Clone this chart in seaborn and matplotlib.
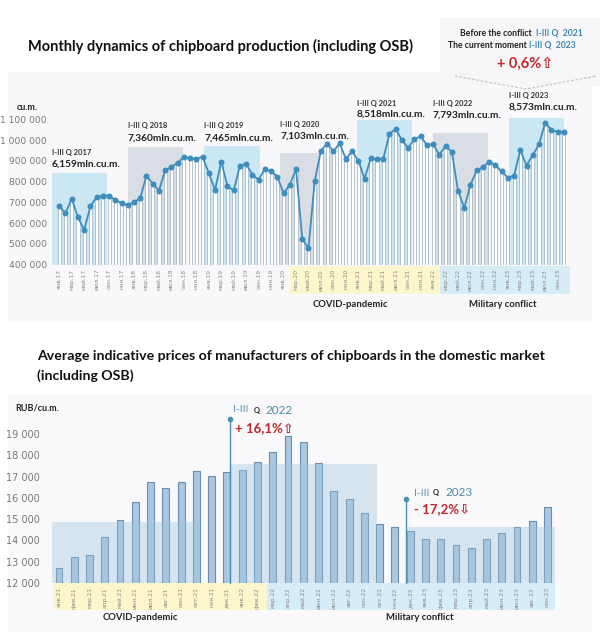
import numpy as np
import pandas as pd
import matplotlib.pyplot as plt
import seaborn as sns
from matplotlib.patches import Rectangle
from matplotlib.lines import Line2D
from matplotlib.transforms import blended_transform_factory

W, H = 600, 642

# monthly chipboard (incl. OSB) production, thousand cu.m., Jan 2017 .. Oct 2023
prod_2017 = [684, 647, 718, 628, 568, 681, 726, 731, 732, 711, 697, 687]
prod_2018 = [700, 721, 829, 790, 756, 854, 870, 891, 918, 912, 909, 920]
prod_2019 = [840, 760, 896, 777, 758, 877, 885, 833, 809, 862, 849, 824]
prod_2020 = [743, 785, 859, 524, 480, 803, 949, 983, 946, 984, 909, 947]
prod_2021 = [901, 814, 912, 907, 909, 1031, 1052, 999, 963, 1004, 1018, 976]
prod_2022 = [979, 930, 971, 943, 756, 674, 785, 854, 869, 896, 880, 849]
prod_2023 = [819, 829, 951, 877, 928, 979, 1084, 1048, 1039, 1039]

period_years = [2017, 2018, 2019, 2020, 2021, 2022, 2023]
period_totals = ["6,159", "7,360", "7,465", "7,103", "8,518", "7,793", "8,573"]
period_level = [843, 965, 973, 936, 1097, 1036, 1108]          # shaded box height
period_colors = ["#cbe7f4", "#d9dee5", "#cbe7f4", "#d9dee5", "#cbe7f4", "#d9dee5", "#cbe7f4"]
label_hi = [938, 1069, 1069, 1077, 1174, 1174, 1212]
label_lo = [885, 1011, 1011, 1020, 1126, 1121, 1159]

# average prices, RUB/cu.m., Jan 2021 .. Sep 2023
prices = [12690, 13240, 13300, 14175, 14960, 15800, 16750, 16470, 16740, 17260, 17040, 17200,
          17300, 17670, 18160, 18890, 18600, 17650, 16320, 15950, 15270, 14770, 14640, 14440,
          14070, 14050, 13800, 13660, 14070, 14350, 14640, 14930, 15550]
price_level = [14850, 17600, 14640]

months_ru = ["янв", "фев", "мар", "апр", "май", "июн", "июл", "авг", "сен", "окт", "ноя", "дек"]

prod = [v * 1000 for v in prod_2017 + prod_2018 + prod_2019 + prod_2020 + prod_2021 + prod_2022 + prod_2023]
prod_labels = [f"{months_ru[i % 12]}.{17 + i // 12}" for i in range(len(prod))]
df_prod = pd.DataFrame({"idx": np.arange(len(prod)), "value": prod, "month": prod_labels})

price_labels = [f"{months_ru[i % 12]}.{21 + i // 12}" for i in range(len(prices))]
df_price = pd.DataFrame({"idx": np.arange(len(prices)), "price": prices, "month": price_labels})

sns.set_theme(style="white")
plt.rcParams["font.family"] = ["Lato", "DejaVu Sans"]
narrow = ["Liberation Sans Narrow", "DejaVu Sans"]

fig = plt.figure(figsize=(6, 6.42), dpi=100)


def fx(x):
    return x / W


def fy(y):
    return 1 - y / H


def ftext(x, y, s, **kw):
    kw.setdefault("va", "center")
    return fig.text(fx(x), fy(y), s, **kw)


def fig_rect(x0, y0, x1, y1, color, z=-5):
    fig.add_artist(Rectangle((fx(x0), fy(y1)), (x1 - x0) / W, (y1 - y0) / H,
                             transform=fig.transFigure, color=color, zorder=z, lw=0))


def space_fmt(v):
    return f"{v:,}".replace(",", " ")


# faint panel backgrounds
fig_rect(8, 72, 592, 322, "#f8f8fa")
fig_rect(440, 18, 600, 86, "#f6f6f8")
fig_rect(8, 395, 592, 632, "#f9f9fb")

# ---------------- top chart ----------------
ftext(28, 46, "Monthly dynamics of chipboard production (including OSB)", fontsize=10.5, weight="bold", color="#111")
ftext(17, 107, "cu.m.", fontsize=6.5, weight="bold", color="#222")

ax1 = fig.add_axes([fx(46.8), fy(264.7), (576.4 - 46.8) / W, (264.7 - 113) / H])
ax1.set_facecolor("none")

for k, year in enumerate(period_years):
    x0 = 12 * k - 1.2 + 0.23 * k
    ax1.add_patch(Rectangle((x0, 400000), 8.9, period_level[k] * 1000 - 400000,
                            color=period_colors[k], lw=0, zorder=0))
    ax1.text(x0, label_hi[k] * 1000, f"I-III Q {year}", fontsize=5.5, weight="bold", color="#333", va="center")
    ax1.text(x0, label_lo[k] * 1000, f"{period_totals[k]}mln.cu.m.", fontsize=7.3, weight="bold", color="#222", va="center")

sns.barplot(data=df_prod, x="idx", y="value", native_scale=True, color="white", saturation=1,
            edgecolor="#a7bac9", linewidth=0.6, width=0.5, errorbar=None, ax=ax1, zorder=1)
sns.lineplot(data=df_prod, x="idx", y="value", ax=ax1, color="#3f8dbd", lw=1.3, marker="o",
             markersize=4.3, markeredgewidth=0, zorder=3)

ax1.set_xlim(-2, 83)
ax1.set_ylim(400000, 1130000)
ticks_y = list(range(400000, 1100001, 100000))
ax1.set_yticks(ticks_y)
ax1.set_yticklabels([space_fmt(v) for v in ticks_y], fontsize=6.6, color="#777", family=narrow)
ax1.set_xticks(df_prod["idx"][::2])
ax1.set_xticklabels(df_prod["month"][::2], rotation=90, fontsize=4.2, color="#8a8a8a", family=narrow)
ax1.tick_params(length=0, axis="y", pad=0)
ax1.tick_params(length=0, axis="x", pad=3)
ax1.set_xlabel("")
ax1.set_ylabel("")
sns.despine(ax=ax1, left=True, bottom=True)

tr1 = blended_transform_factory(ax1.transData, ax1.transAxes)
ax1.add_patch(Rectangle((37.0, -0.195), 24.1, 0.187, transform=tr1, clip_on=False, color="#fbf6cc", lw=0, zorder=-1))
ax1.add_patch(Rectangle((61.1, -0.195), 20.9, 0.187, transform=tr1, clip_on=False, color="#d6ecf6", lw=0, zorder=-1))
ftext(350, 304, "COVID-pandemic", fontsize=6.8, weight="bold", color="#222", ha="center")
ftext(503, 304, "Military conflict", fontsize=6.8, weight="bold", color="#222", ha="center")

# comparison box, top right
blue = "#3c87b0"
ftext(532, 33, "Before the conflict", fontsize=6.2, weight="bold", color="#222", ha="right")
ftext(536, 33, "I-III Q  2021", fontsize=6.2, weight="bold", color=blue, ha="left")
ftext(527, 45, "The current moment", fontsize=6.2, weight="bold", color="#222", ha="right")
ftext(529, 45, "I-III Q  2023", fontsize=6.2, weight="bold", color=blue, ha="left")
ftext(525, 64, "+ 0,6%⇧", fontsize=10.5, weight="bold", color="#c8262e", ha="center",
      family=["Lato", "DejaVu Sans"])
fig.add_artist(Line2D([fx(455), fx(526), fx(597)], [fy(76), fy(89), fy(76)], transform=fig.transFigure,
                      color="#c4c4c8", lw=0.9, ls=(0, (2, 1.5))))

# ---------------- bottom chart ----------------
ftext(37, 356, "Average indicative prices of manufacturers of chipboards in the domestic market",
      fontsize=10.2, weight="bold", color="#111")
ftext(37, 376, "(including OSB)", fontsize=10.2, weight="bold", color="#111")
ftext(15, 408, "RUB/cu.m.", fontsize=6.5, weight="bold", color="#222")

ax2 = fig.add_axes([fx(49.8), fy(583), (570.5 - 49.8) / W, (583 - 416.9) / H])
ax2.set_facecolor("none")

sns.barplot(data=df_price, x="idx", y="price", native_scale=True, color="#a9c7e1", saturation=1,
            edgecolor="#6a8fae", linewidth=0.8, width=0.45, errorbar=None, ax=ax2, zorder=1)

shade_spans = [(-0.45, 9.2), (11.2, 20.85), (22.75, 32.5)]
for (s0, s1), lvl in zip(shade_spans, price_level):
    ax2.add_patch(Rectangle((s0, 12000), s1 - s0, lvl - 12000, color="#9cc3dc", alpha=0.38, lw=0, zorder=3))

line_c = "#4a8db3"
ax2.plot([11.2, 11.2], [12000, 19700], color=line_c, lw=1, clip_on=False, zorder=4)
ax2.plot([11.2], [19700], "o", color=line_c, ms=3, clip_on=False, zorder=4)
ax2.plot([22.75, 22.75], [12000, 15940], color=line_c, lw=1, clip_on=False, zorder=4)
ax2.plot([22.75], [15940], "o", color=line_c, ms=3, clip_on=False, zorder=4)

ax2.set_xlim(-0.6, 33.5)
ax2.set_ylim(12000, 19800)
ticks_p = list(range(12000, 19001, 1000))
ax2.set_yticks(ticks_p)
ax2.set_yticklabels([space_fmt(v) for v in ticks_p], fontsize=7, color="#777", family=narrow)
ax2.set_xticks(df_price["idx"])
ax2.set_xticklabels(df_price["month"], rotation=90, fontsize=4.2, color="#8a8a8a", family=narrow)
ax2.tick_params(length=0, axis="y", pad=7)
ax2.tick_params(length=0, axis="x", pad=3)
ax2.set_xlabel("")
ax2.set_ylabel("")
sns.despine(ax=ax2, left=True, bottom=True)

tr2 = blended_transform_factory(ax2.transData, ax2.transAxes)
ax2.add_patch(Rectangle((-0.39, -0.165), 14.0, 0.165, transform=tr2, clip_on=False, color="#fbf6cc", lw=0, zorder=-1))
ax2.add_patch(Rectangle((13.61, -0.165), 18.9, 0.165, transform=tr2, clip_on=False, color="#d6ecf6", lw=0, zorder=-1))
ftext(140, 618, "COVID-pandemic", fontsize=6.8, weight="bold", color="#222", ha="center")
ftext(420, 618, "Military conflict", fontsize=6.8, weight="bold", color="#222", ha="center")

# change annotations
ftext(233, 410, "I-III", fontsize=7.5, color="#5a90ab")
ftext(254, 410, "Q", fontsize=5.5, weight="bold", color="#222")
ftext(266, 410, "2022", fontsize=8.5, color="#4d8ca7")
ftext(235, 428, "+ 16,1%⇧", fontsize=9.5, weight="bold", color="#c0262d", family=["Lato", "DejaVu Sans"])
ftext(414, 493, "I-III", fontsize=7.5, color="#5a90ab")
ftext(433, 493, "Q", fontsize=5.5, weight="bold", color="#222")
ftext(446, 493, "2023", fontsize=8.5, color="#4d8ca7")
ftext(414, 509, "- 17,2%⇩", fontsize=9.5, weight="bold", color="#c0262d", family=["Lato", "DejaVu Sans"])

fig.savefig("out.png", dpi=100)
